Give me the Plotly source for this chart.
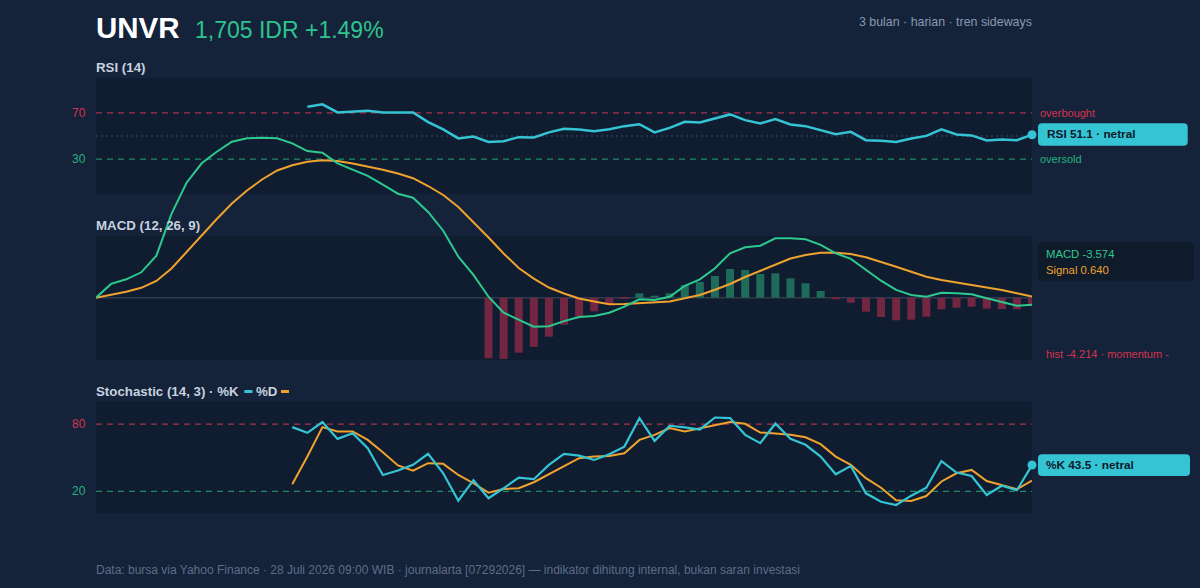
import plotly.graph_objects as go

# ---------------- data ----------------
n_days = 63
day_idx = list(range(n_days))

rsi_start = 14
rsi_vals = [75.2, 77.3, 70.3, 71.0, 71.7, 70.3, 70.3, 70.3, 62.0, 55.7, 47.9, 49.6, 44.9, 45.5,
            49.0, 48.7, 53.1, 56.2, 55.7, 54.2, 55.9, 58.5, 60.2, 53.1, 57.0, 62.2, 61.7, 65.2,
            68.6, 63.7, 60.8, 64.6, 60.0, 58.5, 55.0, 51.6, 53.6, 46.4, 45.8, 44.9, 47.9, 50.1,
            55.7, 51.3, 50.5, 46.2, 47.0, 46.4, 51.1]

macd_vals = [0, 6.9, 9.2, 12.7, 21.0, 41.9, 57.5, 67.2, 73.0, 78.0,
             79.7, 80.0, 79.7, 77.2, 73.3, 72.5, 67.2, 64.0, 60.9, 56.5,
             52.0, 50.0, 42.9, 33.5, 20.5, 11.4, 0.5, -7.5, -10.8, -14.5,
             -14.3, -11.7, -9.7, -9.2, -7.5, -4.5, -0.8, -1.2, 0.5, 5.9,
             9.2, 14.7, 22.2, 25.2, 26.0, 29.7, 29.7, 29.2, 26.4, 22.2,
             19.4, 13.9, 8.5, 3.9, 1.4, 0.5, 2.5, 2.2, 1.7, -0.3,
             -2.0, -4.0, -3.574]

signal_vals = [0, 1.35, 2.95, 4.95, 8.35, 14.6, 22.95, 31.35, 39.35, 47.1,
               53.6, 59.1, 63.6, 66.25, 67.95, 68.75, 68.3, 67.1, 65.7, 64.0,
               62.1, 59.75, 55.85, 51.35, 45.35, 37.85, 30.1, 22.1, 14.85, 9.55,
               5.1, 2.1, -0.4, -1.95, -3.3, -3.15, -2.8, -2.5, -1.95, -0.25,
               1.35, 3.95, 6.85, 10.35, 13.5, 16.75, 19.6, 21.35, 22.5, 22.5,
               21.85, 20.2, 18.0, 15.5, 13.0, 10.5, 8.85, 7.6, 6.6, 5.1,
               3.85, 2.2, 0.64]

hist_start = 26
hist_vals = [-30.3, -30.6, -27.5, -24.6, -19.5, -13.5, -9.5, -6.8, -3.0, -0.65,
             2.2, 1.0, 2.2, 6.35, 7.85, 10.85, 14.35, 13.85, 11.85, 12.2,
             9.7, 7.2, 3.35, -0.8, -2.5, -7.0, -9.65, -11.3, -11.0, -9.5,
             -5.8, -5.0, -4.5, -5.5, -5.65, -5.8, -4.214]

stoch_start = 13
k_vals = [77.3, 72.2, 81.8, 66.8, 71.9, 58.5, 34.6, 38.6, 43.6, 53.4,
          36.1, 11.6, 29.9, 13.8, 22.7, 32.2, 30.8, 43.6, 53.4, 51.9,
          48.0, 53.1, 59.9, 85.4, 65.0, 78.5, 77.0, 75.2, 85.9, 85.4,
          70.4, 63.0, 80.5, 66.8, 61.5, 51.0, 35.2, 42.7, 18.2, 10.7,
          7.8, 16.1, 23.2, 47.0, 36.7, 33.7, 16.7, 25.0, 20.9, 43.5]
d_vals = [26.3, 51.0, 77.3, 73.4, 73.4, 65.9, 54.9, 43.1, 38.5, 45.1,
          44.5, 34.6, 27.2, 18.8, 22.1, 22.7, 28.1, 35.2, 42.4, 49.6,
          51.0, 51.6, 54.0, 65.9, 70.4, 76.4, 73.4, 76.4, 79.4, 81.8,
          80.3, 72.5, 71.6, 70.4, 68.2, 62.1, 51.0, 43.6, 31.7, 23.2,
          12.0, 11.3, 15.8, 28.8, 36.1, 39.1, 29.2, 25.7, 21.8, 29.5]

rsi_levels = [70, 30]
stoch_levels = [80, 20]

# ---------------- style ----------------
FONT = "Liberation Sans, Arial, sans-serif"
BG = "#14223a"
PANEL = "#101d30"
CYAN = "#35c4d4"
GREEN = "#2dc98e"
ORANGE = "#f0a22e"
RED = "#d6334f"
RED_DASH = "#a8324d"
GREEN_DASH = "#1f8a69"
BAR_RED = "#722641"
BAR_GREEN = "#1e6b59"
TXT = "#c8d1df"

W, H = 1200, 588
L, R = 96, 1032


def fx(p):
    return (p - L) / (R - L)


def fy(p):
    return 1 - p / H


x_rsi = day_idx[rsi_start:]
x_hist = day_idx[hist_start:]
x_st = day_idx[stoch_start:]

fig = go.Figure()

# MACD histogram & lines (tall axis so lines overflow upward like the original)
fig.add_trace(go.Bar(x=x_hist, y=hist_vals, xaxis="x", yaxis="y2",
                     marker=dict(color=[BAR_GREEN if v >= 0 else BAR_RED for v in hist_vals],
                                 line=dict(width=0)),
                     hoverinfo="skip"))
fig.add_trace(go.Scatter(x=day_idx, y=signal_vals, xaxis="x", yaxis="y2", mode="lines",
                         line=dict(color=ORANGE, width=2), hoverinfo="skip"))
fig.add_trace(go.Scatter(x=day_idx, y=macd_vals, xaxis="x", yaxis="y2", mode="lines",
                         line=dict(color=GREEN, width=2), hoverinfo="skip"))

# RSI
fig.add_trace(go.Scatter(x=x_rsi, y=rsi_vals, xaxis="x", yaxis="y", mode="lines",
                         line=dict(color=CYAN, width=2.5), hoverinfo="skip"))
fig.add_trace(go.Scatter(x=[x_rsi[-1]], y=[rsi_vals[-1]], xaxis="x", yaxis="y", mode="markers",
                         marker=dict(color=CYAN, size=9), cliponaxis=False, hoverinfo="skip"))

# Stochastic
fig.add_trace(go.Scatter(x=x_st, y=d_vals, xaxis="x", yaxis="y3", mode="lines",
                         line=dict(color=ORANGE, width=2), hoverinfo="skip"))
fig.add_trace(go.Scatter(x=x_st, y=k_vals, xaxis="x", yaxis="y3", mode="lines",
                         line=dict(color=CYAN, width=2.2), hoverinfo="skip"))
fig.add_trace(go.Scatter(x=[x_st[-1]], y=[k_vals[-1]], xaxis="x", yaxis="y3", mode="markers",
                         marker=dict(color=CYAN, size=9), cliponaxis=False, hoverinfo="skip"))

shapes = []
# panel backgrounds
for (t, b) in [(78, 194), (236, 360), (401.7, 513.7)]:
    shapes.append(dict(type="rect", xref="paper", yref="paper", x0=0, x1=1,
                       y0=fy(b), y1=fy(t), fillcolor=PANEL, line=dict(width=0), layer="below"))
# RSI levels
shapes.append(dict(type="line", xref="paper", yref="y", x0=0, x1=1, y0=50, y1=50,
                   line=dict(color="#2c3a50", width=1.5, dash="2px,3px"), layer="below"))
shapes.append(dict(type="line", xref="paper", yref="y", x0=0, x1=1, y0=rsi_levels[0], y1=rsi_levels[0],
                   line=dict(color=RED_DASH, width=1.2, dash="6px,5px"), layer="below"))
shapes.append(dict(type="line", xref="paper", yref="y", x0=0, x1=1, y0=rsi_levels[1], y1=rsi_levels[1],
                   line=dict(color=GREEN_DASH, width=1.2, dash="6px,5px"), layer="below"))
# MACD zero line
shapes.append(dict(type="line", xref="paper", yref="y2", x0=0, x1=1, y0=0, y1=0,
                   line=dict(color="#2d3a4f", width=1.5), layer="below"))
# Stoch levels
shapes.append(dict(type="line", xref="paper", yref="y3", x0=0, x1=1, y0=stoch_levels[0], y1=stoch_levels[0],
                   line=dict(color=RED_DASH, width=1.2, dash="6px,5px"), layer="below"))
shapes.append(dict(type="line", xref="paper", yref="y3", x0=0, x1=1, y0=stoch_levels[1], y1=stoch_levels[1],
                   line=dict(color=GREEN_DASH, width=1.2, dash="6px,5px"), layer="below"))
# legend swatches in stochastic title
shapes.append(dict(type="line", xref="paper", yref="paper", x0=fx(244.3), x1=fx(252.5), y0=fy(391.5), y1=fy(391.5),
                   line=dict(color=CYAN, width=3), layer="above"))
shapes.append(dict(type="line", xref="paper", yref="paper", x0=fx(281), x1=fx(289), y0=fy(391.5), y1=fy(391.5),
                   line=dict(color=ORANGE, width=3), layer="above"))


def rrect(x0, y0, x1, y1, r, color):
    pts = [("M", x0 + r, y0), ("L", x1 - r, y0), ("Q", x1, y0, x1, y0 + r), ("L", x1, y1 - r),
           ("Q", x1, y1, x1 - r, y1), ("L", x0 + r, y1), ("Q", x0, y1, x0, y1 - r),
           ("L", x0, y0 + r), ("Q", x0, y0, x0 + r, y0)]
    s = ""
    for p in pts:
        cmd = p[0]
        coords = p[1:]
        parts = []
        for i in range(0, len(coords), 2):
            parts.append(f"{fx(coords[i]):.5f},{fy(coords[i+1]):.5f}")
        s += cmd + " " + " ".join(parts) + " "
    s += "Z"
    return dict(type="path", xref="paper", yref="paper", path=s, fillcolor=color,
                line=dict(width=0), layer="above")


shapes.append(rrect(1038, 123.3, 1187.7, 145.7, 4, CYAN))
shapes.append(rrect(1038, 242, 1194, 281.3, 5, "#0f1a2b"))
shapes.append(rrect(1038, 454.3, 1190, 476, 4, CYAN))

ann = []


def text(x, y, s, size=12, color=TXT, bold=False, xanchor="left"):
    shift = -2 if xanchor == "left" else 2
    ann.append(dict(xref="paper", yref="paper", x=fx(x), y=fy(y), text=(f"<b>{s}</b>" if bold else s),
                    showarrow=False, xanchor=xanchor, yanchor="middle", xshift=shift,
                    font=dict(family=FONT, size=size, color=color)))


text(96, 27.5, "UNVR", size=29.5, color="#ffffff", bold=True)
text(195, 30, "1,705 IDR +1.49%", size=23, color="#2ec48d")
text(1032, 21.5, "3 bulan · harian · tren sideways", size=12.4, color="#8b99b1", xanchor="right")

text(96, 67.5, "RSI (14)", size=13.3, color=TXT, bold=True)
text(96, 225.5, "MACD (12, 26, 9)", size=13.3, color=TXT, bold=True)
text(96, 391, "Stochastic (14, 3) · %K", size=13.3, color=TXT, bold=True)
text(255.7, 391, "%D", size=13.3, color=TXT, bold=True)

# left level labels
text(86, 112.7, "70", size=12, color=RED, xanchor="right")
text(86, 159, "30", size=12, color="#26b27f", xanchor="right")
text(86, 424.3, "80", size=12, color=RED, xanchor="right")
text(86, 491.3, "20", size=12, color="#26b27f", xanchor="right")

# right labels
text(1040, 113, "overbought", size=11, color=RED)
text(1040, 159, "oversold", size=11, color="#26b27f")
text(1046.5, 134.5, "RSI 51.1 · netral", size=11.8, color="#0d1828", bold=True)
text(1046, 253.5, "MACD -3.574", size=11.3, color=GREEN)
text(1046, 270, "Signal 0.640", size=11.3, color=ORANGE)
text(1046, 354, "hist -4.214 · momentum -", size=11, color=RED)
text(1046, 465.2, "%K 43.5 · netral", size=11.8, color="#0d1828", bold=True)

text(96, 569.5, "Data: bursa via Yahoo Finance · 28 Juli 2026 09:00 WIB · journalarta [07292026] — indikator dihitung internal, bukan saran investasi",
     size=12, color="#5d6d87")

fig.update_layout(
    width=W, height=H,
    margin=dict(l=L, r=W - R, t=0, b=0, pad=0),
    paper_bgcolor=BG, plot_bgcolor="rgba(0,0,0,0)",
    showlegend=False, bargap=0.47,
    xaxis=dict(range=[0, n_days - 1], visible=False, fixedrange=True, anchor="y3"),
    yaxis=dict(domain=[fy(194), fy(78)], range=[0, 100], visible=False, fixedrange=True, anchor="x"),
    yaxis2=dict(domain=[fy(360), 1.0], range=[-31.15, 148.85], visible=False, fixedrange=True, anchor="x"),
    yaxis3=dict(domain=[fy(513.7), fy(401.7)], range=[0, 100], visible=False, fixedrange=True, anchor="x"),
    shapes=shapes, annotations=ann,
    font=dict(family=FONT),
)

fig.write_html("out.html", config={"displayModeBar": False})
